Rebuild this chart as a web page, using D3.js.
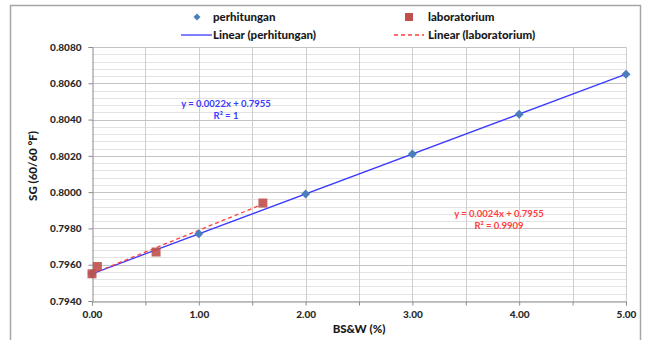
<!DOCTYPE html>
<html>
<head>
<meta charset="utf-8">
<script src="https://cdn.jsdelivr.net/npm/d3@7"></script>
<style>
  body { margin: 0; background: #fff; }
  text { font-family: Lato, "Liberation Sans", sans-serif; font-weight: bold; }
</style>
</head>
<body>
<svg id="chart" width="645" height="340"></svg>
<script>
// series data
var bswPerhitungan = [0, 1, 2, 3, 4, 5];
var sgPerhitungan = [0.7955, 0.7977, 0.7999, 0.8021, 0.8043, 0.8065];
var bswLab = [0, 0.05, 0.6, 1.6];
var sgLab = [0.7955, 0.7959, 0.7967, 0.7994];

// trend lines (from the equations printed on the chart)
var trendNames = ['perhitungan', 'laboratorium'];
var trendSlope = [0.0022, 0.0024];
var trendIntercept = [0.7955, 0.7955];
var trendLabels = [['y = 0.0022x + 0.7955', 'R\u00b2 = 1'], ['y = 0.0024x + 0.7955', 'R\u00b2 = 0.9909']];

var xTicks = [0, 1, 2, 3, 4, 5];
var yTicks = [0.7940, 0.7960, 0.7980, 0.8000, 0.8020, 0.8040, 0.8060, 0.8080];

var blueLine = '#3a3aff', blueMark = '#4a7ebb',
    redLine = '#ff4040', redMark = '#c0504d';

var svg = d3.select('#chart');
var margin = {left: 92, right: 19, top: 47, bottom: 39};
var W = 645, H = 340;

// outer frame
svg.append('rect')
   .attr('x', 10.5).attr('y', 5.5)
   .attr('width', 630).attr('height', 340)
   .style('fill', '#fff').style('stroke', '#a6a6a6').style('stroke-width', 1.5);

var x = d3.scaleLinear().domain([0, 5]).range([margin.left, W - margin.right]);
var y = d3.scaleLinear().domain([0.794, 0.808]).range([H - margin.bottom, margin.top]);

var grid = svg.append('g');
// minor horizontal grid every 0.0004
grid.selectAll('line.minor')
    .data(d3.range(0, 36).map(i => 0.794 + i * 0.0004))
    .enter().append('line')
    .attr('x1', x(0)).attr('x2', x(5))
    .attr('y1', d => Math.round(y(d)) + 0.5).attr('y2', d => Math.round(y(d)) + 0.5)
    .style('stroke', '#e3e3e3');
// vertical grid every 0.5
grid.selectAll('line.v')
    .data(d3.range(1, 11).map(i => i * 0.5))
    .enter().append('line')
    .attr('y1', y(0.794)).attr('y2', y(0.808))
    .attr('x1', d => Math.round(x(d)) + 0.5).attr('x2', d => Math.round(x(d)) + 0.5)
    .style('stroke', '#cfcfcf');
// major horizontal grid
grid.selectAll('line.major')
    .data(yTicks.slice(1))
    .enter().append('line')
    .attr('x1', x(0)).attr('x2', x(5))
    .attr('y1', d => Math.round(y(d)) + 0.5).attr('y2', d => Math.round(y(d)) + 0.5)
    .style('stroke', '#c4c4c4');

// axes
var yAxis = svg.append('g')
    .attr('transform', 'translate(' + (Math.round(x(0)) + 0.5) + ',0)')
    .call(d3.axisLeft(y).tickValues(yTicks).tickFormat(d3.format('.4f')).tickSize(4).tickPadding(7));
var xAxis = svg.append('g')
    .attr('transform', 'translate(0,' + (Math.round(y(0.794)) + 0.5) + ')')
    .call(d3.axisBottom(x).tickValues(d3.range(0, 11).map(i => i * 0.5)).tickSize(4).tickPadding(5)
          .tickFormat(d => Number.isInteger(d) ? d3.format('.2f')(d) : ''));
[yAxis, xAxis].forEach(a => {
    a.select('.domain').style('stroke', '#8c8c8c');
    a.selectAll('.tick line').style('stroke', '#8c8c8c');
    a.selectAll('text').style('font-size', '10px').style('fill', '#2a2a2a').style('font-weight', 900);
});

// axis titles
svg.append('text')
   .attr('transform', 'translate(37,' + ((y(0.794) + y(0.808)) / 2 - 8) + ') rotate(-90)')
   .style('text-anchor', 'middle').style('font-size', '11.5px').style('fill', '#1a1a1a').style('font-weight', 900)
   .text('SG (60/60 \u00b0F)');
svg.append('text')
   .attr('x', (x(0) + x(5)) / 2).attr('y', 333)
   .style('text-anchor', 'middle').style('font-size', '11.5px').style('fill', '#1a1a1a').style('font-weight', 900)
   .text('BS&W (%)');

// trend lines
var trendExtent = [[0, d3.max(bswPerhitungan)], [0, d3.max(bswLab)]];
var lineColors = [blueLine, redLine];
trendNames.forEach((n, i) => {
    svg.append('line')
       .attr('x1', x(trendExtent[i][0])).attr('x2', x(trendExtent[i][1]))
       .attr('y1', y(trendIntercept[i] + trendSlope[i] * trendExtent[i][0]))
       .attr('y2', y(trendIntercept[i] + trendSlope[i] * trendExtent[i][1]))
       .style('stroke', lineColors[i]).style('stroke-width', 1.3)
       .style('stroke-dasharray', i ? '4,3' : null);
});

// points (diamond = rotated square)
var diamond = 'M0,-4.5L4.5,0L0,4.5L-4.5,0Z';
svg.append('g').selectAll('path')
   .data(bswPerhitungan.map((b, i) => [b, sgPerhitungan[i]]))
   .enter().append('path')
   .attr('d', diamond)
   .attr('transform', d => 'translate(' + x(d[0]) + ',' + y(d[1]) + ')')
   .style('fill', blueMark);
svg.append('g').selectAll('rect')
   .data(bswLab.map((b, i) => [b, sgLab[i]]))
   .enter().append('rect')
   .attr('x', d => x(d[0]) - 4.5).attr('y', d => y(d[1]) - 4.5)
   .attr('width', 9).attr('height', 9)
   .style('fill', redMark).style('opacity', 0.9);

// equation labels
var eqPos = [[226, 107], [499, 217]];
trendLabels.forEach((lines, i) => {
    lines.forEach((t, j) => {
        svg.append('text')
           .attr('x', eqPos[i][0]).attr('y', eqPos[i][1] + j * 11.5)
           .style('text-anchor', 'middle').style('font-size', '9.5px')
           .style('fill', lineColors[i]).text(t);
    });
});

// legend
var legend = svg.append('g').style('font-size', '11.5px');
legend.append('path').attr('d', 'M0,-3.5L3.5,0L0,3.5L-3.5,0Z').attr('transform', 'translate(197,17)').style('fill', blueMark);
legend.append('text').attr('x', 213).attr('y', 21).text('perhitungan');
legend.append('rect').attr('x', 405).attr('y', 13).attr('width', 8).attr('height', 8).style('fill', redMark);
legend.append('text').attr('x', 428).attr('y', 21).text('laboratorium');
legend.append('line').attr('x1', 181).attr('x2', 212).attr('y1', 35).attr('y2', 35)
      .style('stroke', blueLine).style('stroke-width', 1.3);
legend.append('text').attr('x', 213).attr('y', 39).text('Linear (perhitungan)');
legend.append('line').attr('x1', 394).attr('x2', 424).attr('y1', 35).attr('y2', 35)
      .style('stroke', redLine).style('stroke-width', 1.3).style('stroke-dasharray', '4,3');
legend.append('text').attr('x', 428).attr('y', 39).text('Linear (laboratorium)');
legend.selectAll('text').style('fill', '#1a1a1a').style('font-weight', 900);
</script>
</body>
</html>
